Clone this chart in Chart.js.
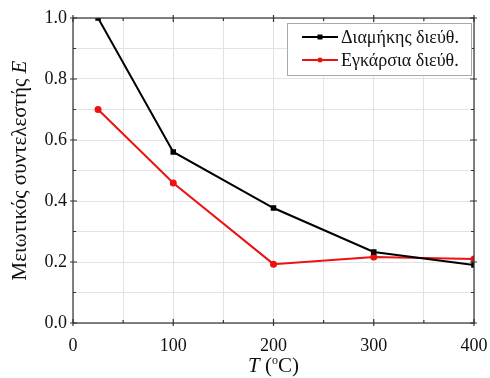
<!DOCTYPE html>
<html>
<head>
<meta charset="utf-8">
<script src="https://cdn.jsdelivr.net/npm/chart.js@4.4.1/dist/chart.umd.min.js"></script>
<style>
  html, body { margin: 0; padding: 0; background: #fff; }
  #wrap { width: 490px; height: 378px; }
</style>
</head>
<body>
<div id="wrap"><canvas id="grafico"></canvas></div>
<script>
// datos
const temperaturas = [25, 100, 200, 300, 400];
const diamikis = [1.0, 0.561, 0.377, 0.233, 0.19];
const egkarsia = [0.70, 0.459, 0.193, 0.216, 0.21];
const nombres = ["Διαμήκης διεύθ.", "Εγκάρσια διεύθ."];
const FUENTE = "'Liberation Serif', 'DejaVu Serif', serif";

function puntos(xs, ys) {
  return xs.map((x, i) => ({ x: x, y: ys[i] }));
}

// marcas de ejes, marco, títulos y leyenda
const decoraciones = {
  id: "decoraciones",
  afterDatasetsDraw(chart) {
    const { ctx, chartArea: a, scales } = chart;
    const sx = scales.x, sy = scales.y;
    ctx.save();
    ctx.strokeStyle = "#333";
    ctx.lineWidth = 1.2;
    ctx.strokeRect(a.left, a.top, a.right - a.left, a.bottom - a.top);

    // ticks en los cuatro lados
    ctx.beginPath();
    for (let v = 0; v <= 400; v += 50) {
      const px = sx.getPixelForValue(v);
      const mayor = v % 100 === 0;
      const L = mayor ? 4 : 3;
      ctx.moveTo(px, a.bottom - L); ctx.lineTo(px, a.bottom + (mayor ? 3 : 0));
      ctx.moveTo(px, a.top + L); ctx.lineTo(px, a.top - (mayor ? 3 : 0));
    }
    for (let i = 0; i <= 10; i++) {
      const py = sy.getPixelForValue(i / 10);
      const mayor = i % 2 === 0;
      const L = mayor ? 4 : 3;
      ctx.moveTo(a.left + L, py); ctx.lineTo(a.left - (mayor ? 3 : 0), py);
      ctx.moveTo(a.right - L, py); ctx.lineTo(a.right + (mayor ? 3 : 0), py);
    }
    ctx.stroke();

    // título eje x: T (°C)
    ctx.fillStyle = "#111";
    ctx.textBaseline = "alphabetic";
    const cx = (a.left + a.right) / 2, by = 372;
    const partes = [
      { t: "T", f: "italic 21px " + FUENTE, dy: 0 },
      { t: " (", f: "21px " + FUENTE, dy: 0 },
      { t: "o", f: "12px " + FUENTE, dy: -8 },
      { t: "C)", f: "21px " + FUENTE, dy: 0 }
    ];
    let total = 0;
    partes.forEach(p => { ctx.font = p.f; p.w = ctx.measureText(p.t).width; total += p.w; });
    let x0 = cx - total / 2;
    ctx.textAlign = "left";
    partes.forEach(p => { ctx.font = p.f; ctx.fillText(p.t, x0, by + p.dy); x0 += p.w; });

    // título eje y
    ctx.save();
    ctx.translate(26, (a.top + a.bottom) / 2);
    ctx.rotate(-Math.PI / 2);
    const p1 = "Μειωτικός συντελεστής ", p2 = "E";
    ctx.font = "21px " + FUENTE;
    const w1 = ctx.measureText(p1).width;
    ctx.font = "italic 21px " + FUENTE;
    const w2 = ctx.measureText(p2).width;
    let xx = -(w1 + w2) / 2;
    ctx.font = "21px " + FUENTE;
    ctx.fillText(p1, xx, 0);
    ctx.font = "italic 21px " + FUENTE;
    ctx.fillText(p2, xx + w1, 0);
    ctx.restore();

    // leyenda
    const lx = 287, ly = 23, lw = 184, lh = 52;
    ctx.fillStyle = "#fff";
    ctx.fillRect(lx, ly, lw, lh);
    ctx.strokeStyle = "#aaa";
    ctx.lineWidth = 1;
    ctx.strokeRect(lx + 0.5, ly + 0.5, lw, lh);
    chart.data.datasets.forEach((ds, i) => {
      const yy = ly + 14 + i * 23;
      ctx.strokeStyle = ds.borderColor;
      ctx.lineWidth = 2;
      ctx.beginPath();
      ctx.moveTo(lx + 15, yy); ctx.lineTo(lx + 51, yy);
      ctx.stroke();
      ctx.fillStyle = ds.borderColor;
      if (ds.pointStyle === "rect") {
        ctx.fillRect(lx + 33 - 2.5, yy - 2.5, 5, 5);
      } else {
        ctx.beginPath(); ctx.arc(lx + 33, yy, 2.5, 0, Math.PI * 2); ctx.fill();
      }
      ctx.fillStyle = "#111";
      ctx.font = "18px " + FUENTE;
      ctx.textBaseline = "middle";
      ctx.fillText(ds.label, lx + 54, yy + 1);
    });
    ctx.restore();
  }
};

new Chart(document.getElementById("grafico"), {
  type: "line",
  data: {
    datasets: [
      {
        label: nombres[0],
        data: puntos(temperaturas, diamikis),
        borderColor: "#000",
        backgroundColor: "#000",
        borderWidth: 2,
        pointStyle: "rect",
        pointRadius: 2.5,
        tension: 0
      },
      {
        label: nombres[1],
        data: puntos(temperaturas, egkarsia),
        borderColor: "#ee1111",
        backgroundColor: "#ee1111",
        borderWidth: 2,
        pointStyle: "circle",
        pointRadius: 2.5,
        tension: 0
      }
    ]
  },
  options: {
    responsive: true,
    maintainAspectRatio: false,
    animation: false,
    layout: { padding: { top: 18, right: 16, left: 0, bottom: 0 } },
    plugins: { legend: { display: false }, tooltip: { enabled: false } },
    scales: {
      x: {
        type: "linear",
        min: 0, max: 400,
        ticks: {
          stepSize: 50,
          color: "#111",
          font: { family: FUENTE, size: 18 },
          padding: 12,
          maxRotation: 0,
          callback: v => (v % 100 === 0 ? v : "")
        },
        grid: { color: "#e2e2e2", drawTicks: false },
        border: { display: false },
        afterFit: s => { s.height = 55; s.paddingRight = 0; s.paddingLeft = 0; }
      },
      y: {
        min: 0, max: 1,
        ticks: {
          stepSize: 0.1,
          color: "#111",
          font: { family: FUENTE, size: 18 },
          padding: 6,
          callback: v => (Math.round(v * 10) % 2 === 0 ? v.toFixed(1) : "")
        },
        grid: { color: "#e2e2e2", drawTicks: false },
        border: { display: false },
        afterFit: s => { s.width = 73; s.paddingTop = 0; s.paddingBottom = 0; }
      }
    }
  },
  plugins: [decoraciones]
});
</script>
</body>
</html>
